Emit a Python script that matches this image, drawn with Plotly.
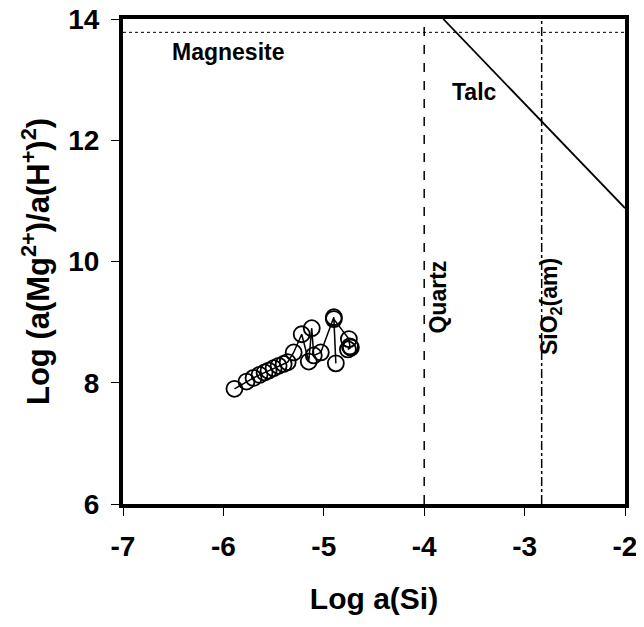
import plotly.graph_objects as go

# Sample data (Log a(Si), Log a(Mg2+)/a(H+)^2), in sequence
log_si = [-5.89, -5.77, -5.70, -5.64, -5.59, -5.55, -5.50, -5.45, -5.40, -5.36,
          -5.30, -5.22, -5.15, -5.12, -5.10, -5.03, -4.90, -4.88, -4.90, -4.75,
          -4.74, -4.76, -4.73]
log_mg = [7.90, 8.02, 8.08, 8.13, 8.17, 8.20, 8.24, 8.28, 8.31, 8.34,
          8.50, 8.80, 8.35, 8.90, 8.45, 8.50, 9.08, 8.32, 9.05, 8.72,
          8.60, 8.55, 8.58]

# Stability boundaries
magnesite_y = 13.78
quartz_x = -4.0
sio2am_x = -2.83
talc_x = [-3.81, -2.0]
talc_y = [14.0, 10.88]

x_ticks = [-7, -6, -5, -4, -3, -2]
y_ticks = [6, 8, 10, 12, 14]

FONT = "Liberation Sans, Arial, sans-serif"

fig = go.Figure()

fig.add_trace(go.Scatter(x=[-7, -2], y=[magnesite_y, magnesite_y], mode="lines",
                         line=dict(color="black", width=1, dash="dot"), showlegend=False))
fig.add_trace(go.Scatter(x=[quartz_x, quartz_x], y=[6, 14], mode="lines",
                         line=dict(color="black", width=1.5, dash="dash"), showlegend=False))
fig.add_trace(go.Scatter(x=[sio2am_x, sio2am_x], y=[6, 14], mode="lines",
                         line=dict(color="black", width=1.5, dash="dashdot"), showlegend=False))
fig.add_trace(go.Scatter(x=talc_x, y=talc_y, mode="lines",
                         line=dict(color="black", width=1.8), showlegend=False))
fig.add_trace(go.Scatter(x=log_si, y=log_mg, mode="lines+markers",
                         line=dict(color="black", width=1.5),
                         marker=dict(symbol="circle-open", size=16, color="black",
                                     line=dict(width=1.8, color="black")),
                         showlegend=False))

bold = dict(family=FONT, size=23, color="black")
fig.add_annotation(x=-5.95, y=13.45, text="<b>Magnesite</b>", showarrow=False, font=bold)
fig.add_annotation(x=-3.50, y=12.79, text="<b>Talc</b>", showarrow=False, font=bold)
fig.add_annotation(x=-3.86, y=9.41, text="<b>Quartz</b>", showarrow=False, font=bold, textangle=-90)
fig.add_annotation(x=-2.74, y=9.26, text="<b>SiO<sub>2</sub>(am)</b>", showarrow=False, font=bold, textangle=-90)

tickfont = dict(family=FONT, size=28, color="black")
fig.update_layout(
    width=636, height=619,
    margin=dict(l=115, r=19, t=11, b=123),
    paper_bgcolor="white", plot_bgcolor="white",
    font=dict(family=FONT, color="black"),
    xaxis=dict(range=[-7, -2], tickvals=x_ticks, ticktext=["<b>%d</b>" % v for v in x_ticks],
               showgrid=False, zeroline=False, showline=True, linewidth=4, linecolor="black",
               mirror=True, ticks="outside", ticklen=8, tickwidth=1, tickcolor="black",
               tickfont=tickfont, automargin=False, ticklabeloverflow="allow",
               ticklabelstandoff=6,
               title=dict(text="<b>Log a(Si)</b>", font=dict(family=FONT, size=30, color="black"),
                          standoff=28)),
    yaxis=dict(range=[6, 14], tickvals=y_ticks, ticktext=["<b>%d</b>" % v for v in y_ticks],
               showgrid=False, zeroline=False, showline=True, linewidth=4, linecolor="black",
               mirror=True, ticks="outside", ticklen=8, tickwidth=1, tickcolor="black",
               tickfont=tickfont, automargin=False, ticklabeloverflow="allow",
               ticklabelstandoff=6,
               title=dict(text="<b>Log (a(Mg<sup>2+</sup>)/a(H<sup>+</sup>)<sup>2</sup>)</b>",
                          font=dict(family=FONT, size=31, color="black"), standoff=10)),
)

fig.write_html("out.html")
